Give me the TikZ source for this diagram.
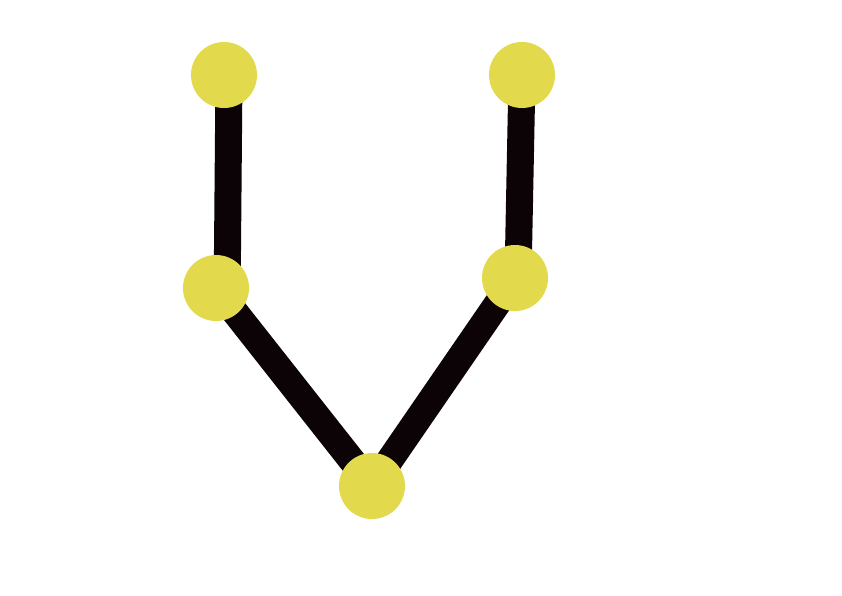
\documentclass[tikz,border=0pt]{standalone}
\definecolor{dotyellow}{HTML}{E3D94C}
\definecolor{linedark}{HTML}{0B0305}
\begin{document}
\begin{tikzpicture}[x=1pt,y=-1pt,
  dot/.style={circle,fill=dotyellow,draw=none,minimum size=66pt,inner sep=0pt},
  bar/.style={draw=linedark,line width=27pt,line cap=butt}]
\useasboundingbox (0,0) rectangle (842,595);
\coordinate (pa) at (224,75);
\coordinate (pb) at (216,288);
\coordinate (pc) at (372,486);
\coordinate (pd) at (515,278);
\coordinate (pe) at (522,75);
\draw[bar] ([xshift=5pt]pa) -- ([xshift=11pt,yshift=-20pt]pb);
\draw[bar] (pb) -- (pc);
\draw[bar] (pc) -- (pd);
\draw[bar] (pe) -- ([xshift=3pt]pd);
\node[dot] (a) at (pa) {};
\node[dot] (b) at (pb) {};
\node[dot] (c) at (pc) {};
\node[dot] (d) at (pd) {};
\node[dot] (e) at (pe) {};
\end{tikzpicture}
\end{document}
